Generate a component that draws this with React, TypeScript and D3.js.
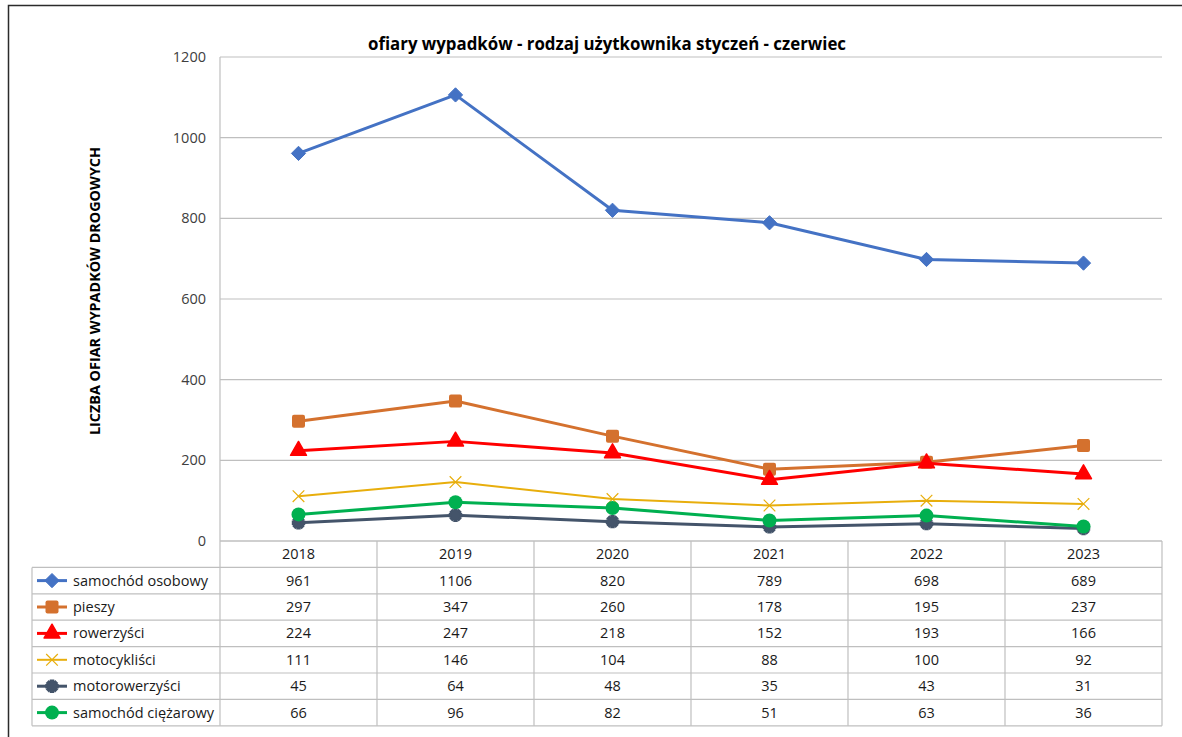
import { useRef, useEffect } from 'react';
import * as d3 from 'd3';

const years = ['2018', '2019', '2020', '2021', '2022', '2023'];
const seriesNames = [
  'samochód osobowy',
  'pieszy',
  'rowerzyści',
  'motocykliści',
  'motorowerzyści',
  'samochód ciężarowy',
];
const osobowy = [961, 1106, 820, 789, 698, 689];
const pieszy = [297, 347, 260, 178, 195, 237];
const rowerzysci = [224, 247, 218, 152, 193, 166];
const motocyklisci = [111, 146, 104, 88, 100, 92];
const motorowerzysci = [45, 64, 48, 35, 43, 31];
const ciezarowy = [66, 96, 82, 51, 63, 36];
const yTicks = [0, 200, 400, 600, 800, 1000, 1200];

const seriesValues = [osobowy, pieszy, rowerzysci, motocyklisci, motorowerzysci, ciezarowy];
const colors = ['#4472C4', '#D4712E', '#FF0000', '#E8AE0C', '#44546A', '#00B050'];
const markers = ['diamond', 'square', 'triangle', 'x', 'star', 'circle'];
const widths = [3, 3, 3, 2, 3, 3];

const FONT = '"Open Sans", "Noto Sans", sans-serif';

export default function App() {
  const svgRef = useRef<SVGSVGElement>(null);

  useEffect(() => {
    const svg = d3.select(svgRef.current);
    svg.selectAll('*').remove();

    const W = 1182, H = 737;
    const plot = { left: 220, right: 1162, top: 57, bottom: 541 };
    const rowH = 26.4;
    const tableLeft = 32;

    svg.append('rect').attr('width', W).attr('height', H).attr('fill', '#fff');
    // outer chart border (only top and left edges fall inside the picture)
    svg.append('path')
      .attr('d', `M8.5,${H + 5} L8.5,5.5 L${W + 5},5.5`)
      .attr('fill', 'none').attr('stroke', '#2b2b2b').attr('stroke-width', 1.5);

    const x = d3.scaleBand().domain(years).range([plot.left, plot.right]);
    const y = d3.scaleLinear().domain([0, 1200]).range([plot.bottom, plot.top]);

    // gridlines
    svg.append('g').selectAll('line').data(yTicks).join('line')
      .attr('x1', plot.left).attr('x2', plot.right)
      .attr('y1', d => y(d)).attr('y2', d => y(d))
      .attr('stroke', '#BFBFBF').attr('stroke-width', 1.2);
    svg.append('line')
      .attr('x1', plot.left).attr('x2', plot.left)
      .attr('y1', plot.top).attr('y2', plot.bottom + rowH * 7)
      .attr('stroke', '#BFBFBF').attr('stroke-width', 1.2);

    // y tick labels
    svg.append('g').selectAll('text').data(yTicks).join('text')
      .attr('x', 206).attr('y', d => y(d) + 5)
      .attr('text-anchor', 'end')
      .attr('font-family', FONT).attr('font-size', 14.5).attr('fill', '#404040')
      .text(d => d);

    // title
    svg.append('text')
      .attr('x', 607).attr('y', 50).attr('text-anchor', 'middle')
      .attr('font-family', FONT).attr('font-size', 17).attr('font-weight', 'bold')
      .attr('fill', '#000')
      .attr('textLength', 478).attr('lengthAdjust', 'spacingAndGlyphs')
      .text('ofiary wypadków - rodzaj użytkownika styczeń - czerwiec');

    // y axis title
    svg.append('text')
      .attr('transform', 'translate(100,291) rotate(-90)')
      .attr('text-anchor', 'middle')
      .attr('font-family', FONT).attr('font-size', 14).attr('font-weight', 'bold')
      .attr('fill', '#000')
      .attr('textLength', 288).attr('lengthAdjust', 'spacingAndGlyphs')
      .text('LICZBA OFIAR WYPADKÓW DROGOWYCH');

    // data table
    const table = svg.append('g');
    const gridColor = '#BFBFBF';
    for (let r = 0; r <= 7; r++) {
      const yy = plot.bottom + r * rowH;
      table.append('line')
        .attr('x1', r === 0 ? plot.left : tableLeft).attr('x2', plot.right)
        .attr('y1', yy).attr('y2', yy)
        .attr('stroke', gridColor).attr('stroke-width', 1.2);
    }
    years.forEach(yr => {
      const xx = (x(yr) as number) + x.bandwidth();
      table.append('line')
        .attr('x1', xx).attr('x2', xx)
        .attr('y1', plot.bottom).attr('y2', plot.bottom + rowH * 7)
        .attr('stroke', gridColor).attr('stroke-width', 1.2);
    });
    table.append('line')
      .attr('x1', tableLeft).attr('x2', tableLeft)
      .attr('y1', plot.bottom + rowH).attr('y2', plot.bottom + rowH * 7)
      .attr('stroke', gridColor).attr('stroke-width', 1.2);

    table.selectAll('text.yr').data(years).join('text')
      .attr('class', 'yr')
      .attr('x', d => (x(d) as number) + x.bandwidth() / 2)
      .attr('y', plot.bottom + rowH / 2 + 5)
      .attr('text-anchor', 'middle')
      .attr('font-family', FONT).attr('font-size', 14.5).attr('fill', '#1a1a1a')
      .text(d => d);

    const drawMarker = (g: any, kind: string, cx: number, cy: number, color: string) => {
      if (kind === 'diamond') {
        g.append('path').attr('d', d3.symbol(d3.symbolDiamond2, 130)())
          .attr('transform', `translate(${cx},${cy})`).attr('fill', color)
          .attr('stroke', color).attr('stroke-width', 1).attr('stroke-linejoin', 'round');
      } else if (kind === 'square') {
        g.append('rect').attr('x', cx - 6.5).attr('y', cy - 6.5).attr('width', 13).attr('height', 13)
          .attr('rx', 2).attr('fill', color);
      } else if (kind === 'triangle') {
        g.append('path').attr('d', d3.symbol(d3.symbolTriangle, 110)())
          .attr('transform', `translate(${cx},${cy})`).attr('fill', color)
          .attr('stroke', color).attr('stroke-width', 1.5).attr('stroke-linejoin', 'round');
      } else if (kind === 'x') {
        g.append('path').attr('d', d3.symbol(d3.symbolX, 90)())
          .attr('transform', `translate(${cx},${cy})`).attr('fill', 'none')
          .attr('stroke', color).attr('stroke-width', 1.2);
      } else if (kind === 'star') {
        g.append('path').attr('d', d3.symbol(d3.symbolCross, 100)())
          .attr('transform', `translate(${cx},${cy}) rotate(45)`).attr('fill', color);
        g.append('path').attr('d', d3.symbol(d3.symbolCross, 100)())
          .attr('transform', `translate(${cx},${cy})`).attr('fill', color);
        g.append('circle').attr('cx', cx).attr('cy', cy).attr('r', 4.5).attr('fill', color);
      } else {
        g.append('circle').attr('cx', cx).attr('cy', cy).attr('r', 7).attr('fill', color);
      }
    };

    seriesNames.forEach((name, i) => {
      const rowY = plot.bottom + (i + 1) * rowH + rowH / 2;
      table.append('line')
        .attr('x1', 37).attr('x2', 67).attr('y1', rowY).attr('y2', rowY)
        .attr('stroke', colors[i]).attr('stroke-width', widths[i]);
      drawMarker(table, markers[i], 52, rowY, colors[i]);
      table.append('text')
        .attr('x', 73).attr('y', rowY + 5)
        .attr('font-family', FONT).attr('font-size', 14.5).attr('fill', '#1a1a1a')
        .attr('textLength', name === 'samochód osobowy' ? 135 : null)
        .text(name);
      table.selectAll(`text.v${i}`).data(seriesValues[i]).join('text')
        .attr('class', `v${i}`)
        .attr('x', (_: number, j: number) => (x(years[j]) as number) + x.bandwidth() / 2)
        .attr('y', rowY + 5)
        .attr('text-anchor', 'middle')
        .attr('font-family', FONT).attr('font-size', 14.5).attr('fill', '#1a1a1a')
        .text((d: number) => d);
    });

    // series lines with markers
    const line = d3.line<number>()
      .x((_, j) => (x(years[j]) as number) + x.bandwidth() / 2)
      .y(d => y(d));
    seriesValues.forEach((vals, i) => {
      const g = svg.append('g');
      g.append('path').datum(vals)
        .attr('d', line)
        .attr('fill', 'none')
        .attr('stroke', colors[i]).attr('stroke-width', widths[i])
        .attr('stroke-linejoin', 'round');
      vals.forEach((v, j) => {
        drawMarker(g, markers[i], (x(years[j]) as number) + x.bandwidth() / 2, y(v), colors[i]);
      });
    });
  }, []);

  return (
    <svg
      ref={svgRef}
      width={1182}
      height={737}
      style={{ position: 'absolute', left: 0, top: 0, display: 'block' }}
    />
  );
}
